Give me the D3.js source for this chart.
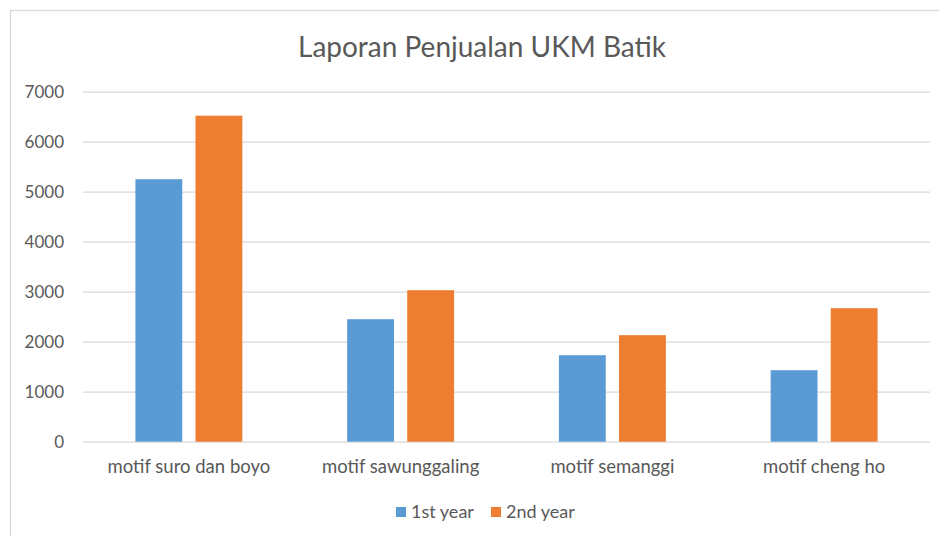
<!DOCTYPE html>
<html>
  <head>
    <meta charset="utf-8">
    <title>Laporan Penjualan UKM Batik</title>
    <script src="https://d3js.org/d3.v7.min.js"></script>
    <style>
      body {
        margin: 0;
        background: #fff;
      }
      svg {
        display: block;
      }
      svg text {
        font-family: Lato, "Open Sans", sans-serif;
      }
    </style>
  </head>
  <body>
    <div id="chart"></div>
    <script>
      // data
      const categories = ["motif suro dan boyo", "motif sawunggaling", "motif semanggi", "motif cheng ho"];
      const seriesNames = ["1st year", "2nd year"];
      const firstYear = [5250, 2450, 1730, 1430];
      const secondYear = [6520, 3030, 2130, 2670];
      const yTicks = [0, 1000, 2000, 3000, 4000, 5000, 6000, 7000];

      const colors = {
        "1st year": "#5b9bd5",
        "2nd year": "#ed7d31"
      };

      const width = 939;
      const height = 536;
      const margin = {top: 91.7, right: 9, bottom: 94.3, left: 83};

      const rows = categories.map((c, i) => ({
        category: c,
        "1st year": firstYear[i],
        "2nd year": secondYear[i]
      }));

      const svg = d3.select("#chart")
        .append("svg")
        .attr("width", width)
        .attr("height", height);

      // chart area border
      svg.append("rect")
        .attr("x", 10.5)
        .attr("y", 10.5)
        .attr("width", 1000)
        .attr("height", 600)
        .attr("fill", "#fff")
        .attr("stroke", "#d9d9d9")
        .attr("stroke-width", 1.3);

      // title
      svg.append("text")
        .attr("x", 482)
        .attr("y", 57)
        .attr("text-anchor", "middle")
        .attr("fill", "#595959")
        .style("font-size", "28px")
        .text("Laporan Penjualan UKM Batik");

      const x0 = d3.scaleBand()
        .domain(categories)
        .range([margin.left, width - margin.right])
        .paddingInner(0.495)
        .paddingOuter(0.2475);

      const x1 = d3.scaleBand()
        .domain(seriesNames)
        .range([0, x0.bandwidth()])
        .paddingInner(0.22);

      const y = d3.scaleLinear()
        .domain([0, 7000])
        .range([height - margin.bottom, margin.top]);

      // gridlines + tick labels
      const yAxis = d3.axisLeft(y)
        .tickValues(yTicks)
        .tickSize(-(width - margin.left - margin.right))
        .tickPadding(19)
        .tickFormat(d3.format("d"));

      svg.append("g")
        .attr("transform", `translate(${margin.left},0)`)
        .call(yAxis)
        .attr("font-family", null)
        .call(g => g.select(".domain").remove())
        .call(g => g.selectAll(".tick line")
          .attr("stroke", "#d9d9d9")
          .attr("stroke-width", 1.3))
        .call(g => g.selectAll(".tick text")
          .attr("fill", "#595959")
          .attr("dy", "0.35em")
          .style("font-size", "17px"));

      // bars
      const groups = svg.append("g")
        .selectAll("g")
        .data(rows)
        .join("g")
        .attr("transform", d => `translate(${x0(d.category)},0)`);

      groups.selectAll("rect")
        .data(d => seriesNames.map(s => ({key: s, value: d[s]})))
        .join("rect")
        .attr("x", d => x1(d.key))
        .attr("y", d => y(d.value))
        .attr("width", x1.bandwidth())
        .attr("height", d => y(0) - y(d.value))
        .attr("fill", d => colors[d.key]);

      // category labels
      const xAxis = d3.axisBottom(x0)
        .tickSize(0)
        .tickPadding(18);

      svg.append("g")
        .attr("transform", `translate(0,${height - margin.bottom})`)
        .call(xAxis)
        .attr("font-family", null)
        .call(g => g.select(".domain").remove())
        .call(g => g.selectAll(".tick text")
          .attr("fill", "#595959")
          .style("font-size", "18.5px"));

      // legend
      const legendItems = [
        {name: "1st year", x: 396},
        {name: "2nd year", x: 491}
      ];

      const legend = svg.append("g");

      legend.selectAll("rect")
        .data(legendItems)
        .join("rect")
        .attr("x", d => d.x)
        .attr("y", 507)
        .attr("width", 10)
        .attr("height", 10)
        .attr("fill", d => colors[d.name]);

      legend.selectAll("text")
        .data(legendItems)
        .join("text")
        .attr("x", d => d.x + 15)
        .attr("y", 518)
        .attr("fill", "#595959")
        .style("font-size", "18px")
        .text(d => d.name);
    </script>
  </body>
</html>
